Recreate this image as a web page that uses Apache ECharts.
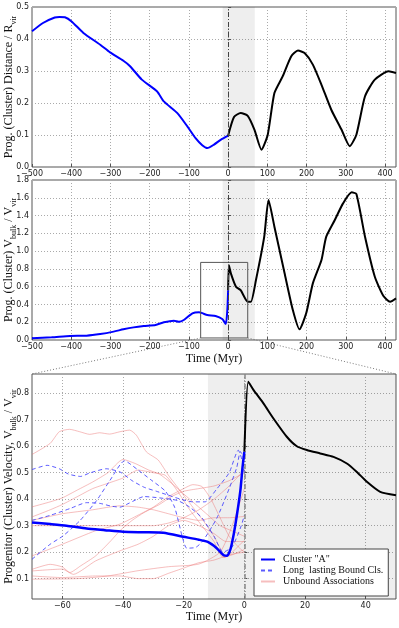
<!DOCTYPE html>
<html lang="en">
<head>
<meta charset="UTF-8">
<title>Progenitor cluster distance and velocity</title>
<script src="https://cdn.jsdelivr.net/npm/echarts@6/dist/echarts.min.js"></script>
<style>
  html, body { margin: 0; padding: 0; background: #fff; }
  #chart { width: 399px; height: 628px; }
</style>
</head>
<body>
<div id="chart"></div>
<script>
// ---- top panel: distance / R_vir
var distPreT  = [-500, -472, -442, -430, -416, -399, -369, -326, -301, -267, -250, -220, -181, -164, -130, -104, -83, -66, -53, -36, -19, 0];
var distPreV  = [0.424, 0.45, 0.467, 0.469, 0.468, 0.455, 0.419, 0.382, 0.358, 0.332, 0.315, 0.273, 0.236, 0.205, 0.169, 0.127, 0.09, 0.068, 0.059, 0.07, 0.085, 0.098];
var distPostT = [0, 15, 32, 50, 67, 85, 101, 118, 139, 161, 178, 195, 216, 238, 263, 289, 310, 327, 349, 374, 409, 428];
var distPostV = [0.098, 0.156, 0.169, 0.16, 0.117, 0.054, 0.101, 0.231, 0.283, 0.346, 0.364, 0.356, 0.32, 0.257, 0.179, 0.117, 0.065, 0.101, 0.221, 0.273, 0.299, 0.294];

// ---- middle panel: V_bulk / V_vir
var velPreT  = [-500, -450, -403, -361, -326, -292, -267, -241, -215, -185, -164, -138, -126, -113, -91, -74, -53, -32, -15, -6, -2, 0];
var velPreV  = [0.019, 0.03, 0.045, 0.049, 0.067, 0.094, 0.12, 0.142, 0.157, 0.169, 0.199, 0.217, 0.206, 0.225, 0.3, 0.311, 0.281, 0.27, 0.236, 0.18, 0.337, 0.56];
var velPostT = [0, 2, 7, 20, 32, 50, 58, 71, 92, 103, 118, 144, 165, 182, 199, 216, 238, 250, 272, 293, 315, 327, 349, 374, 396, 413, 428];
var velPostV = [0.56, 0.84, 0.75, 0.6, 0.56, 0.43, 0.43, 0.675, 1.16, 1.575, 1.275, 0.75, 0.337, 0.12, 0.3, 0.637, 0.9, 1.16, 1.35, 1.537, 1.661, 1.642, 1.162, 0.712, 0.495, 0.431, 0.469];

// ---- bottom panel: zoom on -70..50 Myr
var clusterT = [-70, -64, -58.6, -52, -46, -40, -33, -26.7, -20, -15, -11.9, -9.1, -6.8, -5.7, -4.6, -3.5, -2.4, -1.3, -0.6, 0];
var clusterV = [0.312, 0.306, 0.3, 0.289, 0.283, 0.277, 0.275, 0.273, 0.258, 0.247, 0.238, 0.215, 0.188, 0.186, 0.21, 0.268, 0.344, 0.433, 0.52, 0.58];
var clusterPostT = [0, 1.3, 3, 6.3, 9.6, 14, 17.3, 20.6, 25, 29.4, 33.8, 37, 40.4, 44.8, 50];
var clusterPostV = [0.58, 0.844, 0.813, 0.762, 0.705, 0.636, 0.6, 0.586, 0.573, 0.56, 0.535, 0.504, 0.466, 0.428, 0.415];

var boundA = [[-70,0.512],[-65,0.528],[-61,0.515],[-58,0.495],[-54,0.486],[-51,0.499],[-45.5,0.515],[-41,0.503],[-37,0.47],[-33,0.445],[-29,0.43],[-25,0.415],[-21,0.4],[-17,0.39],[-13,0.39],[-9,0.44],[-5,0.5],[-2,0.585],[-0.8,0.55],[0,0.5]];
var boundB = [[-70,0.32],[-64,0.339],[-57.4,0.365],[-52,0.387],[-47.5,0.384],[-44,0.374],[-41,0.37],[-38,0.385],[-33,0.41],[-28,0.405],[-22,0.395],[-18,0.37],[-14,0.33],[-10,0.26],[-7,0.2],[-4,0.22],[-1,0.3],[0,0.34]];
var boundC = [[-70,0.173],[-64,0.23],[-59.7,0.262],[-54.2,0.319],[-48.7,0.395],[-44.3,0.471],[-39.5,0.545],[-35,0.51],[-31,0.475],[-26,0.43],[-23,0.37],[-20.5,0.26],[-19,0.215],[-16,0.218],[-13.5,0.245],[-9,0.33],[-5,0.44],[-2.5,0.52],[-1.3,0.58],[0,0.55]];

var unbound1 = [[-70,0.569],[-64,0.611],[-61,0.655],[-57.6,0.664],[-54.3,0.655],[-51,0.645],[-47.7,0.651],[-44.4,0.646],[-41,0.655],[-37.8,0.661],[-35.6,0.642],[-32.3,0.579],[-28.4,0.548],[-25,0.49],[-21,0.43],[-17,0.37],[-13,0.31],[-10,0.26],[-8,0.215],[-6.5,0.18],[-4,0.2],[0,0.245]];
var unbound2 = [[-70,0.371],[-64,0.39],[-60,0.405],[-55,0.435],[-50,0.465],[-45,0.5],[-40,0.55],[-36,0.535],[-31.5,0.51],[-28,0.495],[-24,0.46],[-20,0.42],[-16,0.38],[-12,0.34],[-8,0.3],[-4,0.28],[0,0.26]];
var unbound3 = [[-70,0.333],[-64,0.36],[-60,0.38],[-55,0.41],[-50,0.44],[-45,0.46],[-40,0.48],[-35,0.51],[-30,0.5],[-26,0.49],[-22,0.43],[-18,0.36],[-14,0.3],[-10,0.24],[-7,0.18],[-4,0.19],[0,0.21]];
var unbound4 = [[-70,0.32],[-60,0.345],[-50,0.36],[-41,0.375],[-35,0.37],[-30,0.36],[-25,0.345],[-20,0.33],[-15,0.32],[-10,0.33],[-5,0.33],[0,0.335]];
var unbound5 = [[-70,0.3],[-60,0.3],[-50,0.3],[-40,0.3],[-30,0.3],[-25,0.31],[-20,0.33],[-15,0.36],[-10,0.4],[-5,0.45],[0,0.51]];
var unbound6 = [[-70,0.186],[-60,0.23],[-49,0.281],[-41,0.306],[-35,0.34],[-30,0.37],[-25,0.41],[-20,0.44],[-17,0.455],[-14,0.448],[-11,0.4],[-8,0.33],[-5,0.26],[-2,0.22],[0,0.2]];
var unbound7 = [[-70,0.135],[-64,0.154],[-60,0.144],[-57.5,0.123],[-54,0.148],[-49,0.186],[-44,0.243],[-41,0.281],[-37,0.32],[-33,0.35],[-28,0.38],[-24,0.41],[-20,0.43],[-15,0.44],[-10,0.45],[-5,0.47],[0,0.5]];
var unbound8 = [[-70,0.129],[-60,0.136],[-56.4,0.116],[-49,0.167],[-41,0.205],[-35,0.23],[-30,0.26],[-25,0.3],[-20,0.32],[-15,0.3],[-10,0.27],[-6,0.24],[0,0.24]];
var unbound9 = [[-70,0.11],[-60,0.104],[-49,0.11],[-41,0.11],[-35,0.1],[-30,0.1],[-25,0.12],[-20,0.14],[-15,0.16],[-10,0.17],[-5,0.19],[0,0.2]];
var unbound10 = [[-70,0.098],[-55,0.1],[-45,0.11],[-35,0.13],[-25,0.145],[-15,0.155],[-8,0.2],[-4,0.3],[0,0.44]];

// axis ranges
var fullXMin = -500, fullXMax = 428;
var zoomXMin = -70, zoomXMax = 50, zoomYMin = 0.023, zoomYMax = 0.873;
var zoomXTicks = [-60, -40, -20, 0, 20, 40];
var zoomYTicks = [0.1, 0.2, 0.3, 0.4, 0.5, 0.6, 0.7, 0.8];
var shadeTop = [-14, 68], shadeZoom = [-12, 50];

function zip(t, v) { return t.map(function (x, i) { return [x, v[i]]; }); }

var serif = 'Liberation Serif';
var tickFont = { fontSize: 8, color: '#222', fontFamily: 'DejaVu Sans' };
var subRich = {
  m: { fontSize: 12, lineHeight: 18, fontFamily: serif, color: '#111' },
  s: { fontSize: 8, lineHeight: 8, fontFamily: serif, color: '#111', verticalAlign: 'bottom' }
};
var dotted = { show: true, lineStyle: { color: '#aaa', type: [1, 2], width: 1 } };
var minus = function (v) { return String(v).replace('-', '\u2212'); };

function xAxisOf(grid, min, max, extra) {
  return Object.assign({
    type: 'value', gridIndex: grid, min: min, max: max,
    axisLine: { show: false }, splitLine: dotted,
    axisTick: { show: true, inside: true, length: 3, lineStyle: { color: '#555' } },
    axisLabel: Object.assign({ margin: 3, showMaxLabel: false, formatter: minus }, tickFont),
    nameMoveOverlap: false,
    nameTextStyle: { fontSize: 12, fontFamily: serif, color: '#111' }
  }, extra || {});
}
function yAxisOf(grid, min, max, extra) {
  return Object.assign({
    type: 'value', gridIndex: grid, min: min, max: max,
    axisLine: { show: false }, splitLine: dotted,
    axisTick: { show: true, inside: true, length: 3, lineStyle: { color: '#555' } },
    axisLabel: Object.assign({ margin: 3, formatter: function (v) { return v.toFixed(1); } }, tickFont),
    nameLocation: 'middle', nameRotate: 90, nameGap: 14, nameMoveOverlap: false,
    nameTextStyle: { rich: subRich }
  }, extra || {});
}

function shadeOf(range) {
  return { silent: true, itemStyle: { color: 'rgba(0,0,0,0.065)' }, data: [[{ xAxis: range[0] }, { xAxis: range[1] }]] };
}
function zeroLine(color, width) {
  return { silent: true, symbol: 'none', label: { show: false },
    lineStyle: { color: color, width: width, type: [5, 2, 1, 2] }, data: [{ xAxis: 0 }] };
}
function plain(name, grid, data, color, width, type, z) {
  return { name: name, type: 'line', xAxisIndex: grid, yAxisIndex: grid, data: data,
    showSymbol: false, symbol: 'none', smooth: 0.2, z: z || 3, silent: true,
    lineStyle: { color: color, width: width, type: type || 'solid' }, itemStyle: { color: color } };
}

var redCol = 'rgba(236,110,110,0.45)';
var dashCol = 'rgba(50,50,255,0.8)';
var series = [];

var s = plain('pre0', 0, zip(distPreT, distPreV), '#0000ff', 2);
s.markArea = shadeOf(shadeTop); s.markLine = zeroLine('#444', 1);
series.push(s);
series.push(plain('post0', 0, zip(distPostT, distPostV), '#000', 2));

s = plain('pre1', 1, zip(velPreT, velPreV), '#0000ff', 2);
s.markArea = shadeOf(shadeTop); s.markLine = zeroLine('#444', 1);
series.push(s);
series.push(plain('post1', 1, zip(velPostT, velPostV), '#000', 2));
series.push({ type: 'line', xAxisIndex: 1, yAxisIndex: 1, showSymbol: false, symbol: 'none', silent: true, z: 4,
  lineStyle: { color: '#555', width: 1 },
  data: [[zoomXMin, zoomYMin], [zoomXMax, zoomYMin], [zoomXMax, zoomYMax], [zoomXMin, zoomYMax], [zoomXMin, zoomYMin]] });

[unbound1, unbound2, unbound3, unbound4, unbound5, unbound6, unbound7, unbound8, unbound9, unbound10].forEach(function (d, i) {
  var r = plain('Unbound Associations', 2, d, redCol, 1, 'solid', 2);
  if (i === 0) { r.markArea = shadeOf(shadeZoom); r.markLine = zeroLine('#888', 1.5); }
  series.push(r);
});
[boundA, boundB, boundC].forEach(function (d) {
  series.push(plain('Long  lasting Bound Cls.', 2, d, dashCol, 1, [4, 3], 3));
});
series.push(plain('Cluster "A"', 2, zip(clusterT, clusterV), '#0000ff', 2.5, 'solid', 5));
series.push(plain('post2', 2, zip(clusterPostT, clusterPostV), '#000', 2, 'solid', 5));

var gridBase = { left: 32, right: 3, show: true, borderColor: '#555', borderWidth: 1,
  backgroundColor: 'transparent', outerBoundsMode: 'none', containLabel: false };

var chart = echarts.init(document.getElementById('chart'));
chart.setOption({
  animation: false,
  grid: [
    Object.assign({ top: 7, height: 160 }, gridBase),
    Object.assign({ top: 180, height: 160 }, gridBase),
    Object.assign({ top: 374, height: 225 }, gridBase)
  ],
  xAxis: [
    xAxisOf(0, fullXMin, fullXMax, { interval: 100 }),
    xAxisOf(1, fullXMin, fullXMax, { interval: 100, name: 'Time (Myr)', nameLocation: 'middle', nameGap: 13 }),
    xAxisOf(2, zoomXMin, zoomXMax, {
      name: 'Time (Myr)', nameLocation: 'middle', nameGap: 12,
      axisTick: { show: true, inside: true, length: 3, lineStyle: { color: '#555' }, customValues: zoomXTicks },
      axisLabel: Object.assign({ margin: 3, customValues: zoomXTicks, formatter: minus }, tickFont)
    })
  ],
  yAxis: [
    yAxisOf(0, 0, 0.5, { interval: 0.1, name: '{m|Prog. (Cluster) Distance / R}{s|vir}' }),
    yAxisOf(1, 0, 1.8, { interval: 0.2, name: '{m|Prog. (Cluster) V}{s|bulk}{m| / V}{s|vir}' }),
    yAxisOf(2, zoomYMin, zoomYMax, {
      name: '{m|Progenitor (Cluster) Velocity, V}{s|bulk}{m| / V}{s|vir}',
      axisTick: { show: true, inside: true, length: 3, lineStyle: { color: '#555' }, customValues: zoomYTicks },
      axisLabel: Object.assign({ margin: 3, customValues: zoomYTicks, formatter: function (v) { return v.toFixed(1); } }, tickFont)
    })
  ],
  legend: {
    left: 254, top: 549, orient: 'vertical',
    data: ['Cluster "A"', 'Long  lasting Bound Cls.', 'Unbound Associations'],
    itemWidth: 14, itemHeight: 8, itemGap: 0,
    padding: [5, 5, 9, 6],
    itemStyle: { opacity: 0 },
    backgroundColor: '#fff', borderColor: '#444', borderWidth: 1, borderRadius: 0,
    textStyle: { fontFamily: serif, fontSize: 10, color: '#111', lineHeight: 11, padding: [0, 0, 0, 3] },
    selectedMode: false
  },
  series: series
});

// dotted guides from the zoom box in the middle panel to the bottom panel
var a = chart.convertToPixel({ xAxisIndex: 1, yAxisIndex: 1 }, [zoomXMin, zoomYMin]);
var b = chart.convertToPixel({ xAxisIndex: 1, yAxisIndex: 1 }, [zoomXMax, zoomYMin]);
var c = chart.convertToPixel({ xAxisIndex: 2, yAxisIndex: 2 }, [zoomXMin, zoomYMax]);
var d = chart.convertToPixel({ xAxisIndex: 2, yAxisIndex: 2 }, [zoomXMax, zoomYMax]);
var guide = { stroke: '#777', lineWidth: 1, lineDash: [1, 2] };
chart.setOption({
  graphic: [
    { type: 'line', silent: true, shape: { x1: a[0], y1: a[1], x2: c[0], y2: c[1] }, style: guide },
    { type: 'line', silent: true, shape: { x1: b[0], y1: b[1], x2: d[0], y2: d[1] }, style: guide }
  ]
});
</script>
</body>
</html>
